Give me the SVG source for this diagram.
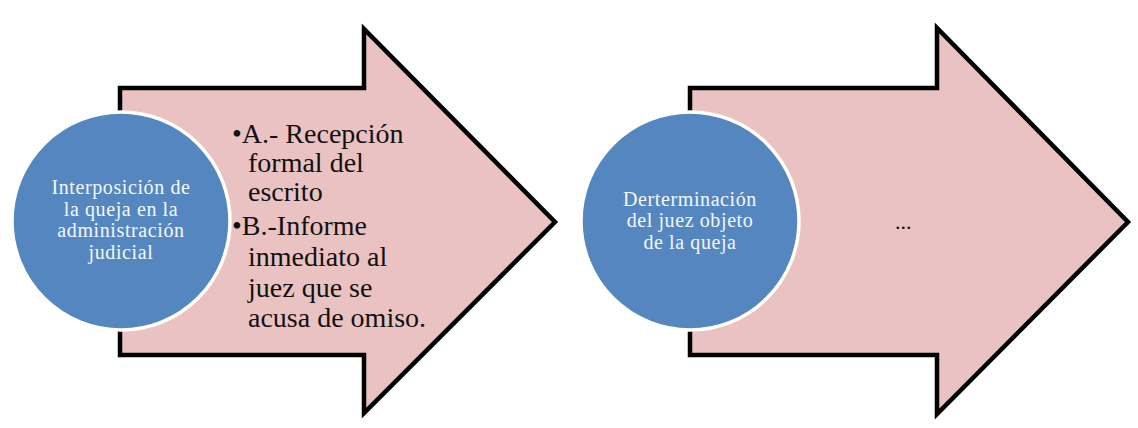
<svg xmlns="http://www.w3.org/2000/svg" width="1138" height="428" viewBox="0 0 1138 428">
<style>
.arrow{fill:#eac2c2;stroke:#000;stroke-width:4.5;stroke-linejoin:miter}
.circ{fill:#5487c0;stroke:#fff;stroke-width:3.5}
.ct{font-family:"Liberation Serif",serif;font-size:20px;letter-spacing:0.6px;fill:#f4f7fc;text-anchor:middle}
.at{font-family:"Liberation Serif",serif;font-size:28px;fill:#111}
</style>
<rect width="1138" height="428" fill="#fff"/>
<g id="arrow1">
<polygon class="arrow" points="120,88 364,88 364,29 555,222 364,413 364,355 120,355"/>
<text class="at"><tspan x="232" y="143">•A.- Recepción</tspan><tspan x="248" y="172">formal del</tspan><tspan x="248" y="201">escrito</tspan><tspan x="232" y="235">•B.-Informe</tspan><tspan x="248" y="266">inmediato al</tspan><tspan x="248" y="297">juez que se</tspan><tspan x="248" y="327">acusa de omiso.</tspan></text>
</g>
<g id="node1">
<circle class="circ" cx="121" cy="221" r="109"/>
<text class="ct"><tspan x="121" y="194">Interposición de</tspan><tspan x="121" y="215.5">la queja en la</tspan><tspan x="121" y="237">administración</tspan><tspan x="121" y="258.5">judicial</tspan></text>
</g>
<g id="arrow2">
<polygon class="arrow" points="690,88 937,88 937,28 1128,222 937,414 937,355 690,355"/>
<text class="at" style="font-size:22px" x="895" y="229">...</text>
</g>
<g id="node2">
<circle class="circ" cx="690" cy="221" r="109"/>
<text class="ct"><tspan x="690" y="205.5">Derterminación</tspan><tspan x="690" y="227">del juez objeto</tspan><tspan x="690" y="248.5">de la queja</tspan></text>
</g>
<g id="connectors"></g>
</svg>
